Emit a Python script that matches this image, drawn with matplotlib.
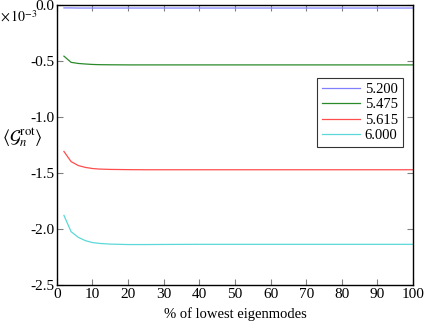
import matplotlib

matplotlib.use("Agg")

import matplotlib.pyplot as plt

plt.rcParams["font.family"] = "Liberation Serif"
plt.rcParams["mathtext.fontset"] = "stix"
plt.rcParams["axes.unicode_minus"] = False

# percent of lowest eigenmodes
modes = [2, 4, 6, 8, 10, 12, 15, 20, 25, 30, 40, 50, 60, 70, 80, 90, 100]

# <G_n^rot> in units of 1e-3
beta_labels = ["5.200", "5.475", "5.615", "6.000"]
g_5200 = [-0.030, -0.030, -0.031, -0.031, -0.031, -0.031, -0.031, -0.031, -0.031,
          -0.031, -0.031, -0.031, -0.031, -0.031, -0.031, -0.031, -0.031]
g_5475 = [-0.46, -0.515, -0.525, -0.530, -0.534, -0.536, -0.537, -0.538, -0.538,
          -0.538, -0.538, -0.538, -0.538, -0.538, -0.538, -0.538, -0.538]
g_5615 = [-1.31, -1.40, -1.435, -1.452, -1.462, -1.467, -1.470, -1.472, -1.473,
          -1.473, -1.473, -1.473, -1.473, -1.473, -1.473, -1.473, -1.473]
g_6000 = [-1.88, -2.025, -2.075, -2.105, -2.122, -2.130, -2.136, -2.140, -2.140,
          -2.139, -2.138, -2.138, -2.138, -2.138, -2.138, -2.138, -2.138]

colors = ["#8080ff", "#2a8a2a", "#ff4d4d", "#5cd8d8"]

fig = plt.figure(figsize=(4.24, 3.26), dpi=100)
ax = fig.add_axes([0.134, 0.126, 0.840, 0.860])

for vals, lab, col in zip([g_5200, g_5475, g_5615, g_6000], beta_labels, colors):
    ax.plot(modes, vals, color=col, lw=0.9, label=lab)

ax.set_xlim(0, 100)
ax.set_ylim(-2.5, 0.0)
ax.set_xticks(range(0, 101, 10))
ax.set_yticks([-2.5, -2.0, -1.5, -1.0, -0.5, 0.0])
ax.yaxis.set_major_formatter(matplotlib.ticker.FormatStrFormatter("%.1f"))
ax.tick_params(direction="in", top=True, right=True, length=4, width=0.8,
               color="#808080", labelsize=11, pad=2)
for s in ax.spines.values():
    s.set_linewidth(1.0)

ax.set_xlabel("% of lowest eigenmodes", fontsize=10.5, labelpad=5)
ax.set_ylabel(r"$\langle \mathcal{G}_n^{\rm rot} \rangle$", fontsize=13,
              rotation=0, labelpad=0)
ax.yaxis.set_label_coords(-0.098, 0.525)
ax.yaxis.label.set_va("center")
fig.text(0.0, 0.948, r"$\times\,10^{-3}$", fontsize=10, va="center", ha="left")

leg = ax.legend(loc="upper right", bbox_to_anchor=(0.972, 0.739), fontsize=10.5,
                frameon=True, fancybox=False, edgecolor="black",
                handlelength=2.6, borderpad=0.35, labelspacing=0.15,
                handletextpad=0.3, borderaxespad=0)
leg.get_frame().set_linewidth(0.8)

fig.savefig("out.png", dpi=100)
